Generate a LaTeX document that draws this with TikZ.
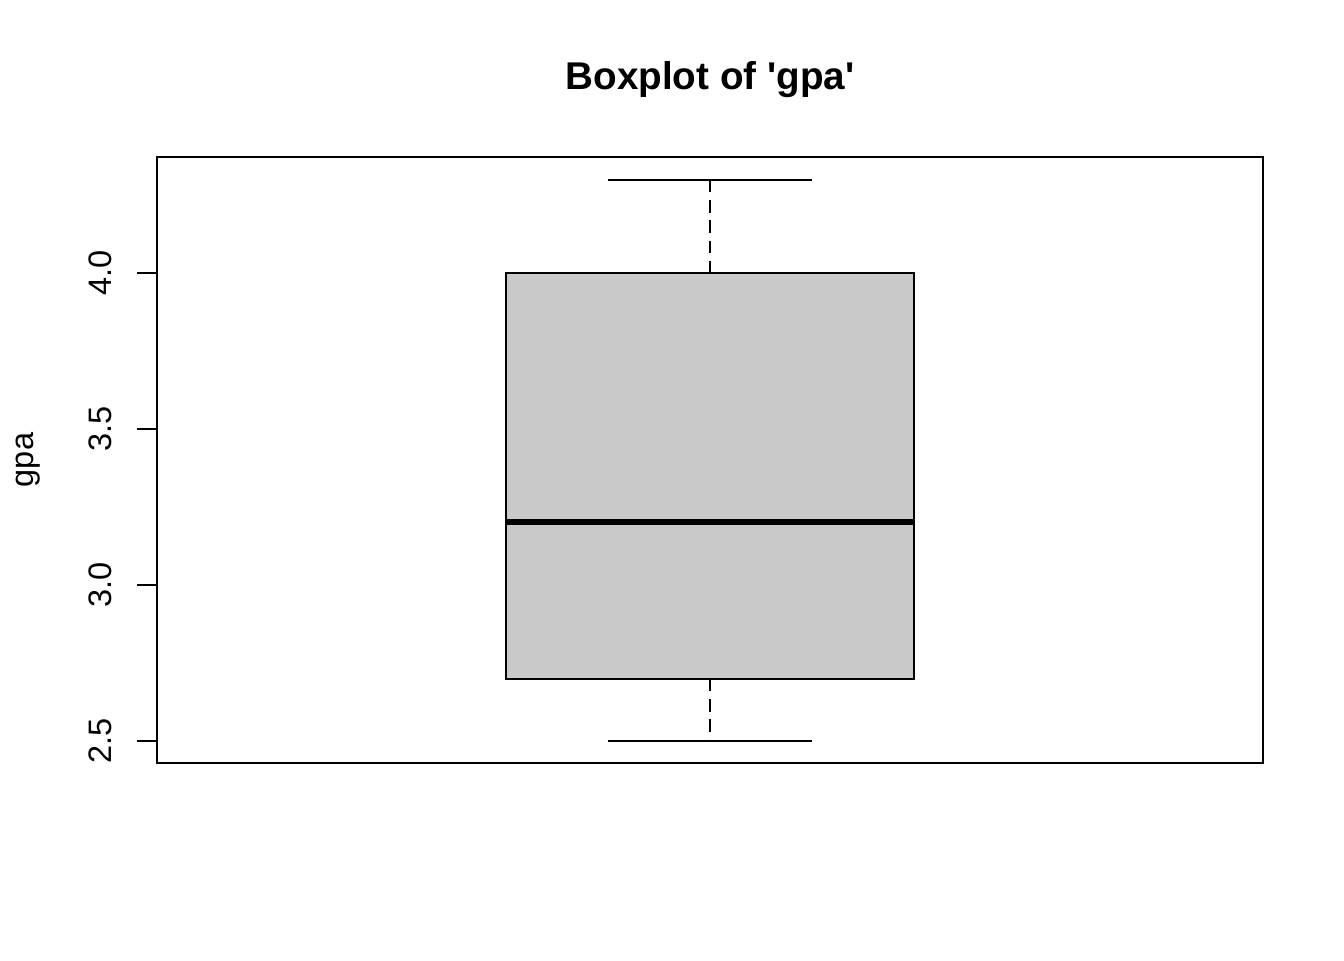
\documentclass[tikz,border=0pt]{standalone}
\usepackage{fontspec}
\setmainfont{Liberation Sans}
\usepackage{tikz}
\usetikzlibrary{positioning}

\begin{document}
\begin{tikzpicture}[x=0.02cm,y=-0.02cm,line width=1.1pt,
    boxfill/.style={draw=black,fill=black!21},
    whisker/.style={dash pattern=on 7pt off 4.5pt},
    ticklab/.style={rotate=90,font=\fontsize{18.5}{22}\selectfont},
    tick/.style={}]
    \useasboundingbox (0,0) rectangle (1344,960);
    % frame of the plot region
    \draw (157,157) rectangle (1263,763);
    % y axis with ticks
    \coordinate (ytop) at (157,273);
    \coordinate (ybot) at (157,741);
    \draw (ytop) -- (ybot);
    \foreach \v/\y in {2.5/741,3.0/585,3.5/429,4.0/273} {
      \draw[tick] (137,\y) -- (157,\y);
      \node[ticklab] (lab\y) at (100,\y) {\v};
    }
    \node[rotate=90,font=\fontsize{18.5}{22}\selectfont] (ylab) at (28,460) {gpa};
    \node[font=\fontsize{22}{26}\selectfont\bfseries] (title) at (710,80) {Boxplot of \textquotesingle gpa\textquotesingle};
    % the box
    \coordinate (upper) at (710,180);
    \coordinate (lower) at (710,741);
    \coordinate (q3) at (710,273);
    \coordinate (q1) at (710,679);
    \draw[whisker] (upper) -- (q3);
    \draw[whisker] (q1) -- (lower);
    \draw (608,180) -- (812,180);
    \draw (608,741) -- (812,741);
    \draw[boxfill] (506,273) rectangle (914,679);
    \draw[line width=3.4pt] (506,522) -- (914,522);
\end{tikzpicture}
\end{document}
